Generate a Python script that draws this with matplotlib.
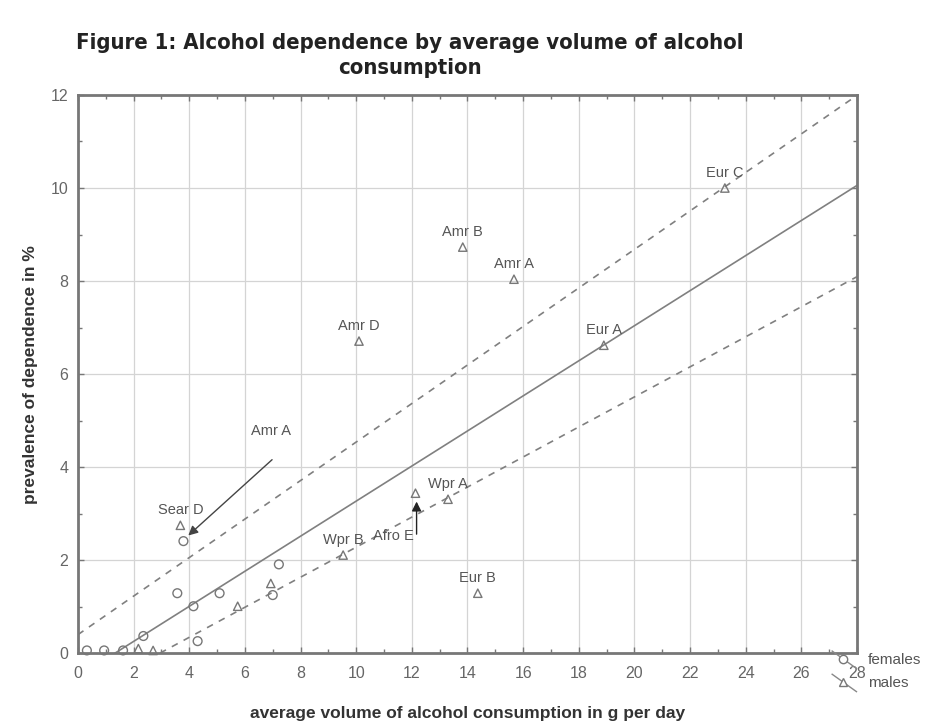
import numpy as np
import matplotlib
matplotlib.use("Agg")
import matplotlib.pyplot as plt
from matplotlib.lines import Line2D
from matplotlib.ticker import MultipleLocator

# Average volume of alcohol (g/day) and prevalence of dependence (%) by WHO subregion
male_x = [23.25, 13.83, 15.67, 10.10, 18.90, 13.30, 12.13, 9.53, 14.37, 3.68, 6.93, 5.74, 2.17, 2.70]
male_y = [10.00, 8.73, 8.04, 6.71, 6.62, 3.31, 3.44, 2.11, 1.29, 2.75, 1.50, 1.01, 0.10, 0.06]
male_labels = ["Eur C", "Amr B", "Amr A", "Amr D", "Eur A", "Wpr A", "", "Wpr B", "Eur B",
               "Sear D", "", "", "", ""]

female_x = [0.32, 0.94, 1.62, 2.35, 3.79, 3.57, 4.15, 5.09, 4.30, 7.00, 7.22]
female_y = [0.06, 0.06, 0.06, 0.37, 2.41, 1.29, 1.01, 1.29, 0.26, 1.25, 1.91]

# Regression line and its band (intercept, slope)
fit_line = (-0.50, 0.377)
upper_band = (0.40, 0.414)
lower_band = (-0.95, 0.323)

x_ticks = list(range(0, 29, 2))
y_ticks = list(range(0, 13, 2))

GRAY = "#555555"
LABEL_FONT = ["Liberation Sans", "DejaVu Sans"]

fig = plt.figure(figsize=(9.35, 7.25), dpi=100)
fig.patch.set_facecolor("white")
ax = fig.add_axes([0.0834, 0.099, 0.8332, 0.770])

ax.set_xlim(0, 28)
ax.set_ylim(0, 12)
ax.set_xticks(x_ticks)
ax.set_yticks(y_ticks)
ax.xaxis.set_minor_locator(MultipleLocator(1))
ax.yaxis.set_minor_locator(MultipleLocator(1))
ax.grid(True, which="major", color="#d4d4d4", lw=0.9)
ax.set_axisbelow(True)
ax.tick_params(which="both", direction="in", top=True, right=True, color="#777777",
               labelcolor="#666666", labelsize=11.5)
ax.tick_params(which="major", length=4, width=1)
ax.tick_params(which="minor", length=3, width=1)
ax.tick_params(axis="x", pad=9)
ax.tick_params(axis="y", pad=7)
for lab in ax.get_xticklabels() + ax.get_yticklabels():
    lab.set_family(LABEL_FONT)
for sp in ax.spines.values():
    sp.set_color("#777777")
    sp.set_linewidth(2)

xx = np.linspace(0, 28, 200)
for (a, b), ls in [(fit_line, "-"), (upper_band, (0, (4, 4))), (lower_band, (0, (4, 4)))]:
    ax.plot(xx, a + b * xx, color="#808080", lw=1.2, ls=ls, clip_on=True)

ax.scatter(female_x, female_y, marker="o", s=40, facecolors="none", edgecolors="#777777",
           linewidths=1, zorder=3, clip_on=False)
ax.scatter(male_x, male_y, marker="^", s=36, facecolors="none", edgecolors="#777777",
           linewidths=1, zorder=3, clip_on=False)

for x, y, t in zip(male_x, male_y, male_labels):
    if t:
        ax.annotate(t, (x, y), xytext=(0, 6), textcoords="offset points", ha="center",
                    va="bottom", fontsize=10.5, color=GRAY, family=LABEL_FONT)

# Female Amr A pointer
ax.annotate("", xy=(female_x[4] + 0.1, female_y[4] + 0.08), xytext=(7.05, 4.2),
            arrowprops=dict(arrowstyle="-|>", color="#444444", lw=1, mutation_scale=14))
ax.text(6.95, 4.62, "Amr A", ha="center", va="bottom", fontsize=10.5, color=GRAY,
        family=LABEL_FONT)

# Afro E pointer
ax.annotate("", xy=(male_x[6] + 0.04, male_y[6] - 0.12), xytext=(male_x[6] + 0.04, 2.5),
            arrowprops=dict(arrowstyle="-|>", color="#222222", lw=1, mutation_scale=14))
ax.text(male_x[6] - 0.05, 2.52, "Afro E", ha="right", va="center", fontsize=10.5, color=GRAY,
        family=LABEL_FONT)

ax.set_xlabel("average volume of alcohol consumption in g per day", fontsize=12.5,
              fontweight="bold", color="#333333", family=LABEL_FONT, labelpad=18)
ax.set_ylabel("prevalence of dependence in %", fontsize=12.5, fontweight="bold",
              color="#333333", family=LABEL_FONT, labelpad=9)

fig.text(0.438, 0.924, "Figure 1: Alcohol dependence by average volume of alcohol\nconsumption",
         ha="center", va="center", fontsize=15.8, fontweight="bold", color="#222222",
         family="DejaVu Sans", fontstretch="condensed", linespacing=1.3)

# Legend drawn beside the lower right corner
def legend_entry(y0, marker, text):
    fig.add_artist(Line2D([0.890, 0.916], [y0 + 0.012, y0 - 0.012], transform=fig.transFigure,
                          color="#888888", lw=1))
    fig.add_artist(Line2D([0.902], [y0 + 0.001], transform=fig.transFigure, marker=marker,
                          markersize=6, markerfacecolor="white", markeredgecolor="#777777"))
    fig.text(0.928, y0, text, ha="left", va="center", fontsize=11, color=GRAY, family=LABEL_FONT)

legend_entry(0.090, "o", "females")
legend_entry(0.058, "^", "males")

fig.savefig("out.png", dpi=100, facecolor="white")
